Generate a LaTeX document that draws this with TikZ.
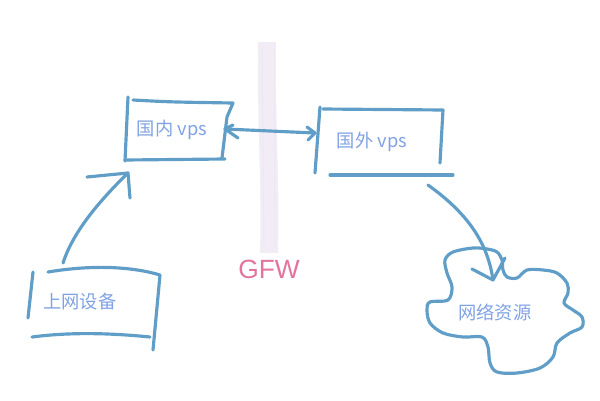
\documentclass[tikz,border=0pt]{standalone}
\usepackage{fontspec}
\setmainfont{Noto Sans CJK SC}
\newfontfamily\gfwfont{Liberation Sans}
\usetikzlibrary{arrows.meta}
\definecolor{pen}{RGB}{96,158,200}
\definecolor{label}{RGB}{128,162,228}
\definecolor{wall}{RGB}{241,236,245}
\definecolor{gfwred}{RGB}{226,116,158}

\begin{document}
\begin{tikzpicture}[x=0.02cm, y=-0.02cm,
  pen/.style={draw=pen, line width=1.8pt, line cap=round, line join=round},
  txt/.style={text=label, font=\fontsize{10.4}{12}\selectfont, inner sep=0pt}]
\useasboundingbox (0,0) rectangle (600,400);

% GFW wall
\draw[wall, line width=0.36cm] (267,42) .. controls (266,120) and (271,190) .. (269,253);
\draw[wall!80!gray!60!white, line width=0.6pt, opacity=0.5] (262,48) -- (264,248);
\draw[wall!80!gray!60!white, line width=0.6pt, opacity=0.5] (274,48) -- (275,248);
\node[text=gfwred, font=\gfwfont\fontsize{15}{17}\selectfont, inner sep=0pt] (gfw) at (269,269) {GFW};

% Box: domestic vps
\draw[pen] (128,97) -- (125,161);
\draw[pen] (133,100) .. controls (170,102) .. (233,103) -- (227,117) -- (222,158);
\draw[pen] (125,160) -- (225,159);
\node[txt] (inner) at (172,130) {国内 vps};

% Box: foreign vps
\draw[pen] (320,107) -- (315,173);
\draw[pen] (323,109) -- (443,110) -- (440,163);
\draw[pen] (330,175) -- (453,175);
\node[txt] (outer) at (372,142) {国外 vps};

% Box: device
\draw[pen] (33,272) -- (28,318);
\draw[pen] (48,272) .. controls (90,265) and (130,266) .. (160,275) -- (153,350);
\draw[pen] (32,337) .. controls (70,332) and (110,333) .. (150,337);
\node[txt] (device) at (80,302) {上网设备};

% Cloud: resources
\draw[pen] plot[smooth cycle, tension=0.55] coordinates {
  (473,248) (453,252) (445,260) (447,273) (452,287) (448,300) (430,302)
  (427,310) (430,323) (443,333) (463,337) (482,337) (488,347) (490,363)
  (497,372) (517,373) (540,368) (553,357) (557,343) (570,333) (582,327)
  (582,317) (573,310) (564,303) (568,293) (567,283) (557,273) (543,270)
  (527,270) (517,278) (507,277) (503,270) (502,260) (497,252) (487,249)};
\node[txt] (web) at (495,312) {网络资源};

% Connectors
\coordinate (devtop) at (63,263);
\coordinate (intip) at (128,173);
\draw[pen] (devtop) .. controls (72,235) and (95,205) .. (intip);
\draw[pen] (87,177) -- (intip) -- (130,198);

\coordinate (inright) at (225,129);
\coordinate (outleft) at (315,133);
\draw[pen] (inright) -- (outleft);
\draw[pen] (233,125) -- (inright) -- (238,138);
\draw[pen] (307,127) -- (outleft) -- (308,140);

\coordinate (outbot) at (428,185);
\coordinate (webtip) at (493,280);
\draw[pen] (outbot) .. controls (470,215) and (488,245) .. (webtip);
\draw[pen] (472,269) -- (webtip) -- (505,258);
\end{tikzpicture}
\end{document}
